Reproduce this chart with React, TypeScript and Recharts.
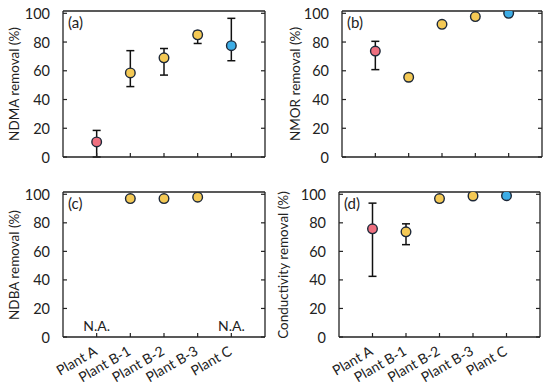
import React from 'react';
import { ScatterChart, Scatter, XAxis, YAxis, ErrorBar } from 'recharts';

const categories = ['Plant A', 'Plant B-1', 'Plant B-2', 'Plant B-3', 'Plant C'];
const yTicks = [0, 20, 40, 60, 80, 100];

const ndmaMean = [10.5, 58.5, 69, 85, 77.5];
const ndmaLow = [0, 49, 57, 79, 67];
const ndmaHigh = [18.5, 74, 75.5, 87.5, 96.5];

const nmorMean = [73.7, 55.5, 92.3, 97.7, 100];
const nmorLow = [60.8, 55.5, 92.3, 96.5, 98.6];
const nmorHigh = [80.5, 55.5, 92.3, 99, 101];

const ndbaMean: (number | null)[] = [null, 97, 97, 98, null];
const ndbaLow: (number | null)[] = [null, 97, 97, 96.8, null];
const ndbaHigh: (number | null)[] = [null, 97, 97, 99.3, null];
const ndbaMissing = ['N.A.', null, null, null, 'N.A.'];

const condMean = [75.8, 73.7, 97, 98.8, 99];
const condLow = [42.5, 64.7, 94.8, 97.8, 97.6];
const condHigh = [93.8, 79.3, 98.6, 99.8, 100.4];

const pointColors = ['#EE6F7F', '#F4C955', '#F4C955', '#F4C955', '#3DADE6'];
const FONT = 'Lato, "Open Sans", sans-serif';
const AXIS = '#222222';
const STROKE = '#1D2838';
const TICK_FS = 14.5;

type Row = { x: number; y: number; err: [number, number]; color: string };

function buildRows(mean: (number | null)[], low: (number | null)[], high: (number | null)[]): Row[] {
  const rows: Row[] = [];
  categories.forEach((_, i) => {
    const m = mean[i];
    if (m == null) return;
    rows.push({
      x: i + 1,
      y: m,
      err: [m - (low[i] as number), (high[i] as number) - m],
      color: pointColors[i],
    });
  });
  return rows;
}

const Dot = (props: any) => {
  const { cx, cy, payload } = props;
  if (cx == null || cy == null) return <g />;
  return <circle cx={cx} cy={cy} r={4.8} fill={payload.color} stroke={STROKE} strokeWidth={1.4} />;
};

const Empty = () => <g />;

const LeftTick = (props: any) => {
  const { x, y, payload } = props;
  return (
    <g>
      <line x1={x} x2={x + 4} y1={y} y2={y} stroke={AXIS} strokeWidth={1.2} />
      <text x={x - 13} y={y} textAnchor="end" dominantBaseline="central" fontSize={TICK_FS} fontFamily={FONT} fill="#222">
        {payload.value}
      </text>
    </g>
  );
};
const RightTick = (props: any) => {
  const { x, y } = props;
  return <line x1={x} x2={x - 4} y1={y} y2={y} stroke={AXIS} strokeWidth={1.2} />;
};
const TopTick = (props: any) => {
  const { x, y } = props;
  return <line x1={x} x2={x} y1={y} y2={y + 4} stroke={AXIS} strokeWidth={1.2} />;
};
const makeBottomTick = (withLabel: boolean) => (props: any) => {
  const { x, y, payload } = props;
  const label = categories[payload.value - 1];
  return (
    <g>
      <line x1={x} x2={x} y1={y} y2={y - 4} stroke={AXIS} strokeWidth={1.2} />
      {withLabel && (
        <text
          x={x + 1.5}
          y={y + 17}
          textAnchor="end"
          fontSize={14}
          fontFamily={FONT}
          fill="#222"
          transform={`rotate(-30, ${x + 1.5}, ${y + 17})`}
        >
          {label}
        </text>
      )}
    </g>
  );
};

const NAShape = (props: any) => {
  const { cx, cy, payload } = props;
  return (
    <text x={cx} y={cy} textAnchor="middle" dominantBaseline="central" fontSize={14} fontFamily={FONT} fill="#222">
      {payload.text}
    </text>
  );
};

type PanelProps = {
  left: number;
  top: number;
  width: number;
  height: number;
  margin: { top: number; right: number; bottom: number; left: number };
  rows: Row[];
  title: string;
  titleX: number;
  letter: string;
  showLabels: boolean;
  na?: { x: number; y: number; text: string }[];
};

function Panel(p: PanelProps) {
  const errRows = p.rows.filter((r) => r.err[0] > 0 || r.err[1] > 0);
  const plotTop = p.margin.top;
  const plotBottom = p.height - p.margin.bottom;
  const cy = (plotTop + plotBottom) / 2;
  const m = { top: p.margin.top - 1, bottom: p.margin.bottom - 1, left: p.margin.left - 1, right: p.margin.right - 1 };
  return (
    <div style={{ position: 'absolute', left: p.left, top: p.top, width: p.width, height: p.height }}>
      <ScatterChart width={p.width} height={p.height} margin={m}>
        <XAxis
          xAxisId={0}
          type="number"
          dataKey="x"
          domain={[0, 6]}
          ticks={[1, 2, 3, 4, 5]}
          height={1}
          tickSize={0}
          tickMargin={0}
          axisLine={{ stroke: AXIS, strokeWidth: 1.3 }}
          tickLine={false}
          tick={makeBottomTick(p.showLabels)}
          interval={0}
        />
        <XAxis
          xAxisId="top"
          orientation="top"
          type="number"
          domain={[0, 6]}
          ticks={[1, 2, 3, 4, 5]}
          height={1}
          tickSize={0}
          tickMargin={0}
          axisLine={{ stroke: AXIS, strokeWidth: 1.3 }}
          tickLine={false}
          tick={TopTick}
          interval={0}
        />
        <YAxis
          yAxisId={0}
          type="number"
          dataKey="y"
          domain={[0, 101.6]}
          ticks={yTicks}
          width={1}
          tickSize={0}
          tickMargin={0}
          axisLine={{ stroke: AXIS, strokeWidth: 1.3 }}
          tickLine={false}
          tick={LeftTick}
          interval={0}
          allowDataOverflow
        />
        <YAxis
          yAxisId="right"
          orientation="right"
          type="number"
          domain={[0, 101.6]}
          ticks={yTicks}
          width={1}
          tickSize={0}
          tickMargin={0}
          axisLine={{ stroke: AXIS, strokeWidth: 1.3 }}
          tickLine={false}
          tick={RightTick}
          interval={0}
          allowDataOverflow
        />
        <Scatter data={p.rows} shape={Dot} isAnimationActive={false} />
        <Scatter data={errRows} shape={Empty} isAnimationActive={false}>
          <ErrorBar dataKey="err" direction="y" width={4} stroke="#111" strokeWidth={1.5} />
        </Scatter>
        {p.na && <Scatter data={p.na} shape={NAShape} isAnimationActive={false} />}
      </ScatterChart>
      <div
        style={{
          position: 'absolute',
          left: p.titleX - 100,
          top: cy - 9,
          width: 200,
          height: 18,
          lineHeight: '18px',
          textAlign: 'center',
          transform: 'rotate(-90deg)',
          fontFamily: FONT,
          fontSize: 13.5,
          color: '#222',
          whiteSpace: 'nowrap',
        }}
      >
        {p.title}
      </div>
      <div
        style={{
          position: 'absolute',
          left: p.margin.left + 5,
          top: plotTop + 2,
          fontFamily: FONT,
          fontSize: 15,
          lineHeight: '18px',
          color: '#222',
        }}
      >
        {p.letter}
      </div>
    </div>
  );
}

const naRows = categories
  .map((_, i) => ({ x: i + 1, y: 8, text: ndbaMissing[i] as string }))
  .filter((r, i) => ndbaMissing[i] != null);

export default function App() {
  return (
    <div style={{ position: 'absolute', left: 0, top: 0, width: 550, height: 387, background: '#fff' }}>
      <Panel
        left={0}
        top={0}
        width={275}
        height={180}
        margin={{ top: 11, right: 10, bottom: 23, left: 63 }}
        rows={buildRows(ndmaMean, ndmaLow, ndmaHigh)}
        title="NDMA removal (%)"
        titleX={14}
        letter="(a)"
        showLabels={false}
      />
      <Panel
        left={275}
        top={0}
        width={275}
        height={180}
        margin={{ top: 11, right: 8, bottom: 23, left: 67 }}
        rows={buildRows(nmorMean, nmorLow, nmorHigh)}
        title="NMOR removal (%)"
        titleX={20}
        letter="(b)"
        showLabels={false}
      />
      <Panel
        left={0}
        top={180}
        width={275}
        height={207}
        margin={{ top: 12, right: 10, bottom: 50, left: 63 }}
        rows={buildRows(ndbaMean, ndbaLow, ndbaHigh)}
        title="NDBA removal (%)"
        titleX={14}
        letter="(c)"
        showLabels={true}
        na={naRows}
      />
      <Panel
        left={275}
        top={180}
        width={275}
        height={207}
        margin={{ top: 12, right: 10, bottom: 50, left: 64 }}
        rows={buildRows(condMean, condLow, condHigh)}
        title="Conductivity removal (%)"
        titleX={8}
        letter="(d)"
        showLabels={true}
      />
    </div>
  );
}
